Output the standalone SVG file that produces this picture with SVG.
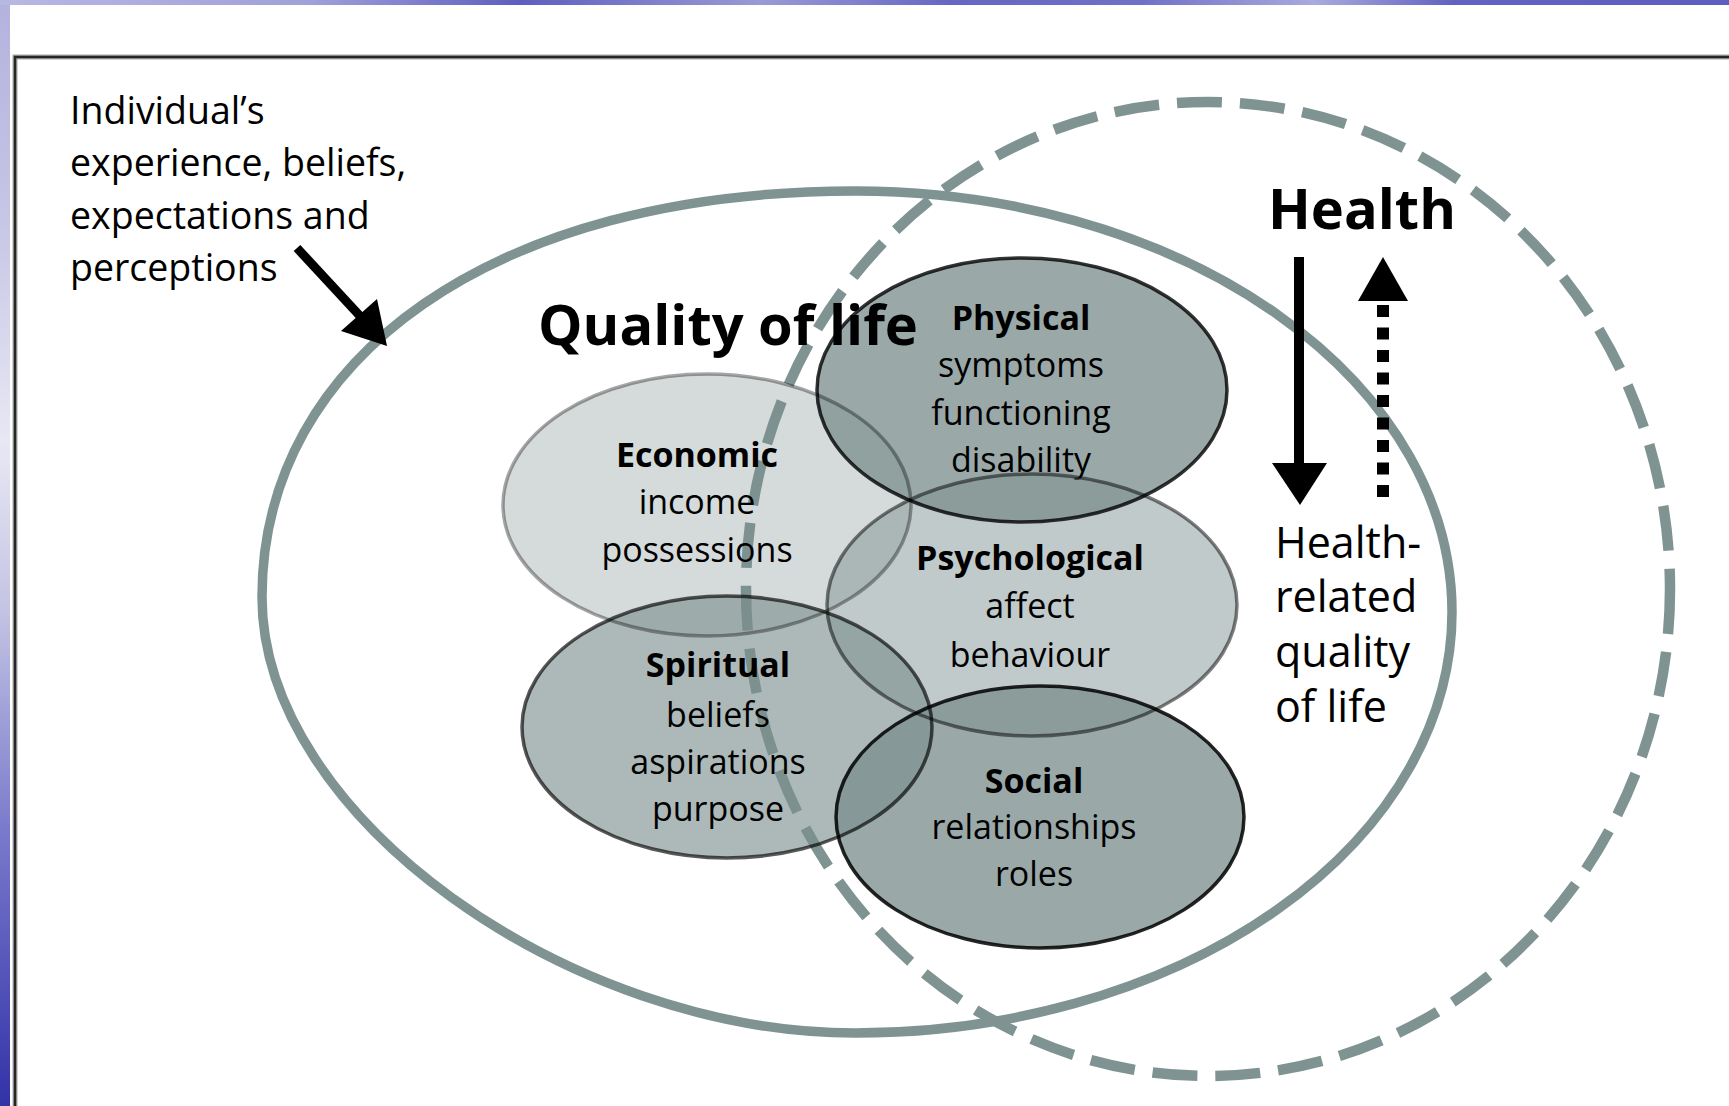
<svg xmlns="http://www.w3.org/2000/svg" width="1729" height="1106" viewBox="0 0 1729 1106">
  <defs>
    <linearGradient id="sideBand" x1="0" y1="0" x2="0" y2="1">
      <stop offset="0" stop-color="#b2b2de"/>
      <stop offset="0.2" stop-color="#c6c6e6"/>
      <stop offset="0.4" stop-color="#e8e8f4"/>
      <stop offset="0.55" stop-color="#c4c4e4"/>
      <stop offset="0.75" stop-color="#7a7acc"/>
      <stop offset="1" stop-color="#3232a8"/>
    </linearGradient>
    <linearGradient id="topBand" x1="0" y1="0" x2="1" y2="0">
      <stop offset="0" stop-color="#b8b8e4"/>
      <stop offset="0.18" stop-color="#a0a0da"/>
      <stop offset="0.3" stop-color="#5e5ec0"/>
      <stop offset="0.44" stop-color="#9a9ad6"/>
      <stop offset="0.55" stop-color="#6666c4"/>
      <stop offset="0.66" stop-color="#7070c8"/>
      <stop offset="0.76" stop-color="#aaaade"/>
      <stop offset="0.84" stop-color="#6262c2"/>
      <stop offset="1" stop-color="#5e5ec0"/>
    </linearGradient>
  </defs>
  <style>
    .region { fill: none; stroke: #7f9492; }
    .qol { stroke-width: 9.5; }
    .hl { stroke-width: 10.5; stroke-dasharray: 45 18; }
    .domain { fill: #7a8e8d; }
    .outline { fill: none; stroke: #000; stroke-width: 3.5; }
    .frame { fill: none; }
    text { font-family: "Open Sans", "Noto Sans", "DejaVu Sans", sans-serif; fill: #000; }
    .title { font-weight: 700; font-size: 56px; }
    .note { font-size: 37.5px; }
    .hrqol { font-size: 43px; }
    .head { font-weight: 700; font-size: 34px; text-anchor: middle; }
    .item { font-size: 34px; text-anchor: middle; }
    .arrow-line { stroke: #000; fill: none; }
    .arrow-head { fill: #000; }
  </style>

  <!-- slide background and frame -->
  <rect x="0" y="0" width="1729" height="1106" fill="#ffffff"/>
  <rect x="0" y="0" width="10" height="1106" fill="url(#sideBand)"/>
  <rect x="0" y="0" width="1729" height="5" fill="url(#topBand)"/>
  <g id="frame" class="frame">
    <path d="M15 1106 V57 H1729" stroke="#a8a8a8" stroke-width="5"/>
    <path d="M15 1106 V57 H1729" stroke="#262626" stroke-width="2.5"/>
  </g>

  <!-- outer regions: quality of life (solid) and health (dashed) -->
  <g id="quality-of-life">
    <path class="region qol" d="M855 191 C495 191 262 357 262 597 C262 817 570 1033 855 1033 A597 421 0 0 0 855 191 Z"/>
  </g>
  <g id="health">
    <ellipse class="region hl" cx="1208" cy="589" rx="462" ry="487"/>
  </g>

  <!-- life domains -->
  <g id="economic">
    <ellipse class="domain" cx="707" cy="505" rx="204" ry="131" fill-opacity="0.32"/>
    <text class="head" x="697" y="467">Economic</text>
    <text class="item" x="697" y="514">income</text>
    <text class="item" x="697" y="562">possessions</text>
  </g>
  <g id="physical">
    <ellipse class="domain" cx="1022" cy="390" rx="205" ry="132" fill-opacity="0.76"/>
    <text class="head" x="1021" y="330">Physical</text>
    <text class="item" x="1021" y="377">symptoms</text>
    <text class="item" x="1021" y="425">functioning</text>
    <text class="item" x="1021" y="472">disability</text>
  </g>
  <g id="spiritual">
    <ellipse class="domain" cx="727" cy="727" rx="205" ry="131" fill-opacity="0.62"/>
    <text class="head" x="718" y="677">Spiritual</text>
    <text class="item" x="718" y="727">beliefs</text>
    <text class="item" x="718" y="774">aspirations</text>
    <text class="item" x="718" y="821">purpose</text>
  </g>
  <g id="psychological">
    <ellipse class="domain" cx="1032" cy="605" rx="205" ry="131" fill-opacity="0.466"/>
    <text class="head" x="1030" y="570">Psychological</text>
    <text class="item" x="1030" y="618">affect</text>
    <text class="item" x="1030" y="667">behaviour</text>
  </g>
  <g id="social">
    <ellipse class="domain" cx="1040" cy="817" rx="204" ry="131" fill-opacity="0.76"/>
    <text class="head" x="1034" y="793">Social</text>
    <text class="item" x="1034" y="839">relationships</text>
    <text class="item" x="1034" y="886">roles</text>
  </g>

  <!-- domain outlines, drawn over all fills -->
  <g id="domain-outlines">
    <ellipse class="outline" cx="707" cy="505" rx="204" ry="131" stroke-opacity="0.35"/>
    <ellipse class="outline" cx="1022" cy="390" rx="205" ry="132" stroke-opacity="0.8"/>
    <ellipse class="outline" cx="727" cy="727" rx="205" ry="131" stroke-opacity="0.65"/>
    <ellipse class="outline" cx="1032" cy="605" rx="205" ry="131" stroke-opacity="0.5"/>
    <ellipse class="outline" cx="1040" cy="817" rx="204" ry="131" stroke-opacity="0.85"/>
  </g>

  <!-- region titles and notes -->
  <g id="quality-of-life-label">
    <text class="title" x="538" y="345">Quality of life</text>
  </g>
  <g id="health-label">
    <text class="title" x="1268" y="229">Health</text>
  </g>
  <g id="individual-note">
    <text class="note" x="70" y="124">Individual’s</text>
    <text class="note" x="70" y="176">experience, beliefs,</text>
    <text class="note" x="70" y="229">expectations and</text>
    <text class="note" x="70" y="281">perceptions</text>
  </g>
  <g id="hrqol-note">
    <text class="hrqol" x="1275" y="558">Health-</text>
    <text class="hrqol" x="1275" y="612">related</text>
    <text class="hrqol" x="1275" y="667">quality</text>
    <text class="hrqol" x="1275" y="722">of life</text>
  </g>

  <!-- connectors -->
  <g id="connectors">
    <line class="arrow-line" x1="297" y1="248" x2="360" y2="316" stroke-width="9"/>
    <polygon class="arrow-head" points="387,346 377,299 341,331"/>
    <line class="arrow-line" x1="1299" y1="257" x2="1299" y2="466" stroke-width="10"/>
    <polygon class="arrow-head" points="1272,463 1327,463 1300,505"/>
    <line class="arrow-line" x1="1383" y1="497" x2="1383" y2="300" stroke-width="12" stroke-dasharray="12 10.5"/>
    <polygon class="arrow-head" points="1383,257 1408,301 1358,301"/>
  </g>
</svg>
